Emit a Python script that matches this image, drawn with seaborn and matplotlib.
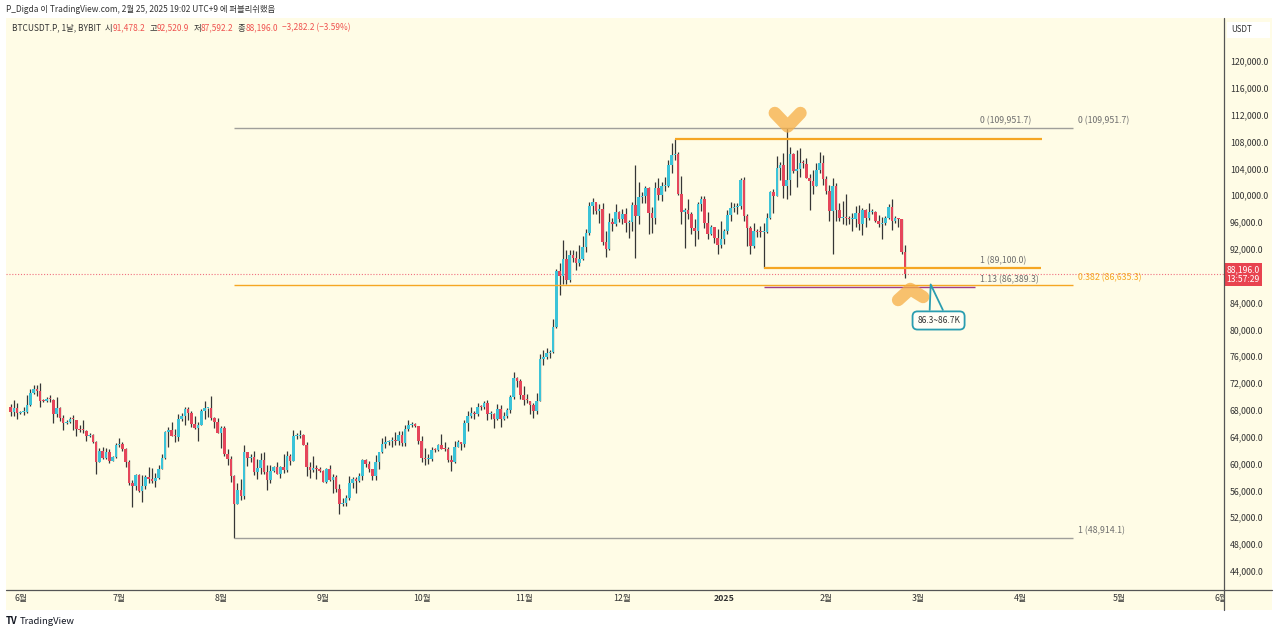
import numpy as np
import pandas as pd
import matplotlib
matplotlib.use("Agg")
import matplotlib.pyplot as plt
import matplotlib.dates as mdates
from matplotlib.patches import Rectangle
from matplotlib.lines import Line2D
from matplotlib.transforms import blended_transform_factory
import seaborn as sns

# ---------------- daily candles (BTCUSDT.P, Bybit), 2024-05-29 .. 2025-02-25
first_open = 68366
close_may = [67635, 68354, 67491]
high_may = [68920, 69500, 69020]
low_may = [67100, 67130, 66600]

close_jun = [67706, 67751, 68804, 70567, 71082, 70757, 69342, 69305, 69648, 69499,
             67321, 68243, 66756, 66011, 66191, 66639, 66490, 65140, 64960, 64828,
             64097, 64253, 63180, 60277, 61806, 60864, 61706, 60428, 60986, 62772]
high_jun = [67860, 68450, 70290, 71060, 71760, 71640, 71990, 69560, 69880, 70150,
            69560, 69990, 68450, 67300, 66450, 66990, 67280, 66500, 65730, 66480,
            65070, 64520, 64480, 63370, 62340, 62480, 62390, 62210, 61200, 63040]
low_jun = [67390, 67300, 67610, 68560, 70390, 70130, 68500, 69210, 69130, 69230,
           66050, 66900, 66300, 65080, 65900, 66060, 65070, 64060, 64690, 64510,
           63380, 63930, 63100, 58400, 60250, 60710, 60630, 60030, 60380, 60760]

close_jul = [62900, 62120, 60210, 57050, 56640, 58230, 55860, 56710, 58050, 57720,
             57340, 57900, 59230, 60800, 64720, 65040, 64090, 63970, 66680, 67140,
             68160, 67570, 65920, 65370, 65770, 67900, 68230, 68250, 66780, 66180, 64620]
high_jul = [63840, 63290, 62300, 60500, 57500, 58470, 58380, 58240, 58300, 59470,
            59300, 58600, 59850, 61420, 64900, 65380, 66130, 65100, 67460, 67600,
            68360, 68480, 67790, 67100, 66130, 68200, 69400, 68300, 70080, 67000, 66830]
low_jul = [62530, 61850, 59420, 56770, 53500, 56000, 55720, 54260, 56280, 57150,
           57050, 56500, 57750, 59220, 60650, 62400, 64060, 63240, 63320, 66400,
           65770, 66570, 65430, 65100, 63400, 65700, 66650, 67000, 66450, 65300, 64530]

close_aug = [65350, 61500, 60700, 58120, 54020, 56040, 55130, 61700, 60880, 60940,
             58710, 59350, 60600, 58740, 57560, 58870, 59480, 58440, 59490, 59010,
             61160, 60380, 64100, 64180, 64250, 62830, 59420, 59030, 59370, 59120, 58970]
high_aug = [65590, 65650, 62180, 61100, 58290, 57040, 57720, 62730, 61750, 61470,
            61860, 60700, 61580, 61800, 59850, 59800, 59700, 60280, 59600, 61400,
            61820, 61400, 64950, 64500, 65000, 64480, 63200, 60250, 61180, 59850, 59450]
low_aug = [62250, 61200, 59850, 57200, 48914.1, 53970, 54560, 54730, 59590, 60260,
           58290, 57640, 58420, 58430, 56080, 57100, 58780, 58400, 57830, 58600,
           58780, 59730, 60350, 63600, 63800, 62800, 58100, 57850, 58740, 57750, 58760]

close_sep = [57300, 59130, 57480, 57970, 56160, 53950, 54160, 54880, 57050, 57640,
             57340, 58130, 60540, 60000, 59130, 58210, 60310, 61760, 62950, 63200,
             63350, 63580, 63340, 64270, 63140, 65180, 65770, 65870, 65600, 63330]
high_sep = [59050, 59400, 59800, 58520, 58320, 56980, 54850, 55300, 58100, 58040,
            57980, 58600, 60670, 60650, 60380, 59200, 61350, 61780, 63870, 64130,
            63560, 64000, 64750, 64800, 64820, 65800, 66500, 66260, 66080, 65600]
low_sep = [57200, 57120, 57400, 55600, 55700, 52550, 53740, 53650, 54600, 56400,
           55550, 57320, 57620, 59430, 58700, 57500, 57620, 59180, 61570, 62350,
           62760, 62400, 62700, 62700, 62680, 62670, 64820, 65420, 65420, 62870]

close_oct = [60800, 60650, 60750, 62080, 62050, 62820, 62220, 62130, 60580, 60270,
             62450, 63190, 62850, 66050, 67040, 67610, 67400, 68400, 68360, 69000,
             67370, 67380, 66650, 68170, 66630, 67020, 67950, 69900, 72720, 72340, 70280]
high_oct = [64130, 62380, 61470, 62460, 62370, 62950, 64480, 63200, 62520, 61320,
            63400, 63480, 63290, 66480, 67900, 68400, 67900, 68980, 68670, 69400,
            69500, 67840, 67470, 68850, 68770, 67700, 68300, 70260, 73600, 72950, 72680]
low_oct = [60200, 59830, 59880, 60460, 61670, 61830, 62130, 61840, 60300, 58900,
           60080, 62430, 62080, 62430, 64800, 66750, 66700, 67150, 68000, 68100,
           66570, 66580, 65260, 66480, 65520, 66500, 66800, 67600, 69700, 71450, 69650]

close_nov = [69500, 69360, 68740, 67800, 69370, 75640, 75900, 76540, 76680, 80400,
             88700, 87950, 90500, 87300, 91050, 90600, 89850, 90450, 92300, 94300,
             98400, 98950, 97700, 97900, 93000, 91980, 95950, 95650, 97450, 96450]
high_nov = [71600, 70400, 69400, 69000, 70580, 76400, 76950, 77250, 76900, 81500,
            89000, 89950, 93300, 91780, 91800, 91800, 91700, 92600, 93900, 94900,
            98950, 99600, 98800, 98700, 98900, 94700, 97400, 96650, 98700, 97700]
low_nov = [68800, 69000, 67450, 66800, 67450, 69300, 74750, 75600, 75800, 76500,
           80250, 85100, 86700, 86700, 87000, 90100, 88800, 89400, 90400, 91600,
           94100, 97200, 97200, 95800, 92600, 90800, 91800, 94700, 95400, 96000]

close_dec = [97200, 95850, 95950, 98600, 96950, 99750, 99850, 101100, 97350, 96600,
             101100, 100000, 101400, 101400, 104450, 106050, 106150, 100200, 97450, 97750,
             97250, 95100, 94700, 98650, 99400, 95800, 94200, 95200, 93550, 92650, 93400]
high_dec = [97900, 98150, 96300, 99000, 104500, 101900, 100500, 101350, 101200, 98300,
            101900, 102500, 101900, 102650, 105250, 107800, 108350, 106500, 102800, 98100,
            99500, 97450, 96500, 99000, 99950, 99950, 97550, 95500, 95200, 94900, 96200]
low_dec = [95700, 94500, 93600, 94650, 90600, 95700, 98900, 98800, 94150, 94300,
           95700, 99300, 99200, 100600, 101200, 103300, 105300, 100000, 95700, 92100,
           96400, 94200, 92500, 93400, 97600, 95150, 93500, 94000, 92900, 91300, 92100]

close_jan = [94600, 97000, 98100, 98250, 98350, 102250, 96950, 95050, 92500, 94700,
             94550, 94500, 94500, 96550, 100500, 99950, 104100, 104500, 101300, 102250,
             106150, 103650, 103950, 104800, 104700, 102600, 102050, 101300, 103750, 104750, 102400]
high_jan = [94900, 97800, 98950, 98800, 98800, 102500, 102700, 97250, 95350, 95850,
            94950, 95400, 95850, 97350, 100700, 100850, 105900, 104950, 106300, 109951.7,
            107200, 106300, 106800, 107100, 105250, 105500, 103200, 103750, 104800, 106450, 106000]
low_jan = [92800, 94200, 96200, 97500, 97250, 97900, 96100, 92500, 91200, 92200,
           93800, 93700, 89100, 94300, 96450, 97300, 99950, 102250, 99600, 99450,
           100100, 103300, 101200, 102750, 104100, 102500, 97750, 100250, 101300, 103300, 101550]

close_feb = [100650, 97650, 101400, 97850, 96600, 96600, 96500, 96450, 96450, 97400,
             95750, 97800, 96600, 97500, 97550, 96150, 95750, 95800, 96600, 98300,
             96150, 96600, 96450, 91478.2, 88196.0]
high_feb = [102800, 101450, 102500, 101750, 98800, 99200, 100150, 96900, 97350, 98350,
            98550, 98100, 98000, 98800, 97950, 97700, 97000, 96700, 96850, 98700,
            99450, 96850, 96650, 96500, 92520.9]
low_feb = [100200, 96150, 91200, 96150, 96200, 95650, 95600, 95700, 94700, 95250,
           94850, 94100, 95200, 96300, 97200, 96050, 95200, 93400, 95600, 96400,
           94850, 95900, 95250, 91300, 87592.2]

# drawing levels
fib0 = 109951.7
fib1 = 48914.1
fib0382 = 86635.3
fib2_1 = 89100.0
fib2_113 = 86389.3
dec_high = 108350
last_price = 88196.0

month_starts = ["2024-06-01", "2024-07-01", "2024-08-01", "2024-09-01", "2024-10-01",
                "2024-11-01", "2024-12-01", "2025-01-01", "2025-02-01", "2025-03-01",
                "2025-04-01", "2025-05-01", "2025-06-01"]
month_labels = ["6월", "7월", "8월", "9월", "10월", "11월", "12월", "2025",
                "2월", "3월", "4월", "5월", "6월"]
price_ticks = list(range(44000, 120001, 4000))

# ---------------- colours
BG = "#FFFCE6"
UP = "#3BC3D8"
DOWN = "#E5465B"
WICK = "#363636"
GRAY = "#A09F9A"
ORANGE = "#F5A623"
PURPLE = "#9C3D8E"
TEAL = "#2A9DB0"
TXT = "#333333"
RED = "#EF5350"

W, H = 1280, 634
sns.set_theme(style="white")
plt.rcParams["font.family"] = ["Noto Sans CJK KR", "DejaVu Sans"]

close = np.array(close_may + close_jun + close_jul + close_aug + close_sep + close_oct
                 + close_nov + close_dec + close_jan + close_feb, dtype=float)
high = np.array(high_may + high_jun + high_jul + high_aug + high_sep + high_oct
                + high_nov + high_dec + high_jan + high_feb, dtype=float)
low = np.array(low_may + low_jun + low_jul + low_aug + low_sep + low_oct
               + low_nov + low_dec + low_jan + low_feb, dtype=float)
opens = np.concatenate([[first_open], close[:-1]])
dates = pd.date_range("2024-05-29", periods=len(close), freq="D")
x = mdates.date2num(dates)
base = mdates.date2num(pd.Timestamp("2024-06-01"))

fig = plt.figure(figsize=(12.8, 6.34), dpi=100, facecolor="white")


def fx(px):
    return px / W


def fy(py):
    return 1 - py / H


# chart panel background
fig.patches.append(Rectangle((fx(6), fy(610)), fx(1272) - fx(6), fy(18) - fy(610),
                             transform=fig.transFigure, fc=BG, ec="none", zorder=-5))

ax = fig.add_axes([fx(6), fy(590), fx(1224) - fx(6), fy(18) - fy(590)])
ax.patch.set_alpha(0)
for s in ax.spines.values():
    s.set_visible(False)

# candles
up = close >= opens
body = close - opens
body = np.where(np.abs(body) < 150, 150, body)
ax.vlines(x, low, high, color=WICK, lw=0.9, zorder=2)
ax.bar(x, body, bottom=opens, width=0.78, color=np.where(up, UP, DOWN), linewidth=0, zorder=3)

# current price
ax.axhline(last_price, color="#F07080", lw=0.8, ls=(0, (1, 1.6)), zorder=1)

# big fib (Aug 5 low -> Jan 20 high)
fib_x0 = mdates.date2num(pd.Timestamp("2024-08-05"))
fib_x1 = base + 320.1
ax.hlines([fib0, fib1], fib_x0, fib_x1, color=GRAY, lw=1, zorder=4)
ax.hlines(fib0382, fib_x0, fib_x1, color=ORANGE, lw=1, zorder=4)
lab_x = base + 321.6
lab_kw = dict(xytext=(0, 2), textcoords="offset points", va="bottom", ha="left", fontsize=6.3)
ax.annotate("0 (109,951.7)", (lab_x, fib0), color="#6E6E6E", **lab_kw)
ax.annotate("1 (48,914.1)", (lab_x, fib1), color="#6E6E6E", **lab_kw)
ax.annotate("0.382 (86,635.3)", (lab_x, fib0382), color=ORANGE, **lab_kw)

# second fib (Jan 20 high -> Jan 13 low)
f2_x0 = mdates.date2num(pd.Timestamp("2025-01-13"))
ax.hlines(fib2_113, f2_x0, base + 290.3, color=PURPLE, lw=1, zorder=4)
ax.hlines(fib2_1, f2_x0, base + 310.4, color=ORANGE, lw=1.6, zorder=4)
ax.hlines(dec_high, mdates.date2num(pd.Timestamp("2024-12-17")), base + 310.7,
          color=ORANGE, lw=1.6, zorder=4)
lab2_x = base + 291.8
ax.annotate("0 (109,951.7)", (lab2_x, fib0), color="#6E6E6E", **lab_kw)
ax.annotate("1 (89,100.0)", (lab2_x, fib2_1), color="#6E6E6E", **lab_kw)
ax.annotate("1.13 (86,389.3)", (lab2_x, fib2_113), color="#6E6E6E", **lab_kw)

# highlighter marks
mark_kw = dict(color="#F6AE45", alpha=0.75, lw=9, solid_capstyle="round",
               solid_joinstyle="round", zorder=6)
ax.plot(base + np.array([229.4, 233.3, 237.2]), [112250, 110250, 112250], **mark_kw)
ax.plot(base + np.array([266.9, 270.6, 274.5]), [84380, 86020, 84830], **mark_kw)

# callout
ax.plot(base + np.array([276.5, 276.8, 280.5]), [82900, 86700, 82900], color=TEAL, lw=1.3, zorder=7)
ax.text(base + 279.2, 81330, "86.3~86.7K", fontsize=6, color=TXT, ha="center", va="center", zorder=8,
        bbox=dict(boxstyle="round,pad=0.55,rounding_size=0.6", fc="#FFFEF6", ec=TEAL, lw=1.3))

# axes ranges and ticks (88,000 sits under the live price tag, as in TradingView)
ax.set_xlim(base - 4.4, base + 366.0)
ax.set_ylim(41160, 126410)
ax.set_xticks(mdates.date2num(pd.to_datetime(month_starts)))
ax.set_xticklabels(month_labels)
ax.set_yticks(price_ticks)
ax.set_yticklabels(["" if abs(v - last_price) < 1500 else f"{v:,.1f}" for v in price_ticks])
ax.yaxis.tick_right()
ax.tick_params(axis="y", length=0, pad=4.3, labelsize=6.3, labelcolor=TXT)
ax.tick_params(axis="x", length=0, pad=3, labelsize=6.3, labelcolor=TXT)
for t in ax.get_xticklabels():
    if t.get_text() == "2025":
        t.set_fontweight("bold")
ax.grid(False)

# cover overflowing tick label at the right, then axis lines
fig.patches.append(Rectangle((fx(1225), fy(610)), fx(1272) - fx(1225), fy(591) - fy(610),
                             transform=fig.transFigure, fc=BG, ec="none", zorder=1))
fig.lines.append(Line2D([fx(1224), fx(1224)], [fy(18), fy(610)], transform=fig.transFigure,
                        color="#555555", lw=0.9, zorder=2))
fig.lines.append(Line2D([fx(6), fx(1272)], [fy(590), fy(590)], transform=fig.transFigure,
                        color="#555555", lw=0.9, zorder=2))

# price label on the axis
bt = blended_transform_factory(ax.transAxes, ax.transData)
ax.text(1.0 + 2.5 / 1218, last_price, "88,196.0\n13:57:29", transform=bt, ha="left", va="center",
        fontsize=6.2, color="white", linespacing=1.05, clip_on=False, zorder=10,
        bbox=dict(boxstyle="square,pad=0.3", fc="#E8434F", ec="none"))

# USDT box
fig.patches.append(Rectangle((fx(1227), fy(38)), fx(1270) - fx(1227), fy(22) - fy(38),
                             transform=fig.transFigure, fc="white", ec="none", zorder=1))
fig.text(fx(1231), fy(30), "USDT", fontsize=5.8, color=TXT, va="center", ha="left", zorder=3)

# header texts
renderer = fig.canvas.get_renderer()


def seq_text(x_px, y_px, parts, size):
    for s, c, gap, weight in parts:
        t = fig.text(fx(x_px), fy(y_px), s, fontsize=size, color=c, va="center", ha="left",
                     fontweight=weight)
        x_px = t.get_window_extent(renderer).x1 + gap


seq_text(6, 9, [("P_Digda 이 TradingView.com, 2월 25, 2025 19:02 UTC+9 에 퍼블리쉬했음", TXT, 0, "normal")], 6.0)
seq_text(12, 28, [("BTCUSDT.P, 1날, BYBIT", TXT, 4, "normal"),
                  ("시", TXT, 0, "normal"), ("91,478.2", RED, 4, "normal"),
                  ("고", TXT, 0, "normal"), ("92,520.9", RED, 4, "normal"),
                  ("저", TXT, 0, "normal"), ("87,592.2", RED, 4, "normal"),
                  ("종", TXT, 0, "normal"), ("88,196.0", RED, 4, "normal"),
                  ("−3,282.2 (−3.59%)", RED, 0, "normal")], 6.0)
seq_text(6, 621, [("TV", "#131722", 2, "bold"), ("TradingView", "#131722", 0, "normal")], 6.8)

fig.savefig("out.png", dpi=100, facecolor="white")
